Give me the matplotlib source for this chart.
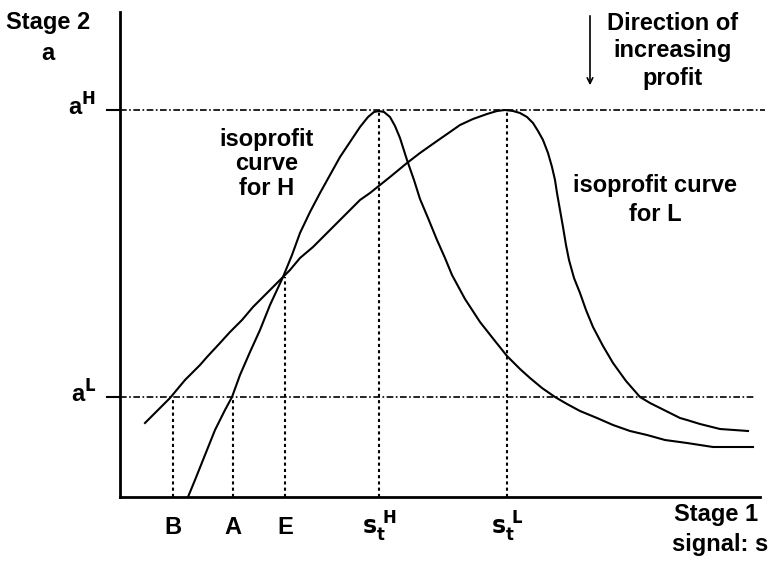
import numpy as np
import matplotlib.pyplot as plt

plt.rcParams['font.family'] = ['Liberation Sans', 'DejaVu Sans']
plt.rcParams['font.weight'] = 'bold'

# curve points (pixel positions, converted below)
h_px = [188, 195, 205, 215, 225, 232, 240, 250, 260, 270, 283, 292, 300, 310, 320,
        330, 340, 350, 360, 368, 374, 379, 384, 390, 395, 400, 407, 414, 420, 428,
        437, 445, 452, 465, 480, 495, 507, 520, 530, 542, 555, 567, 580, 597, 613,
        630, 647, 665, 687, 713, 753]
h_py = [497, 480, 455, 430, 410, 397, 375, 352, 330, 305, 277, 255, 233, 212, 193,
        175, 157, 142, 127, 117, 112, 111, 112, 117, 126, 138, 160, 180, 199, 218,
        240, 258, 275, 299, 322, 341, 356, 369, 378, 388, 397, 404, 411, 418, 425,
        431, 435, 440, 443, 447, 447]

l_px = [145, 155, 170, 185, 200, 207, 220, 230, 242, 253, 265, 277, 290, 300, 313,
        330, 347, 360, 370, 390, 407, 420, 437, 450, 460, 473, 487, 497, 505, 513,
        520, 527, 533, 538, 543, 548, 552, 555, 557, 560, 563, 566, 569, 574, 580,
        586, 593, 603, 613, 626, 640, 650, 660, 670, 680, 687, 700, 720, 748]
l_py = [423, 413, 398, 380, 365, 357, 343, 332, 320, 307, 295, 283, 270, 258, 247,
        230, 213, 200, 193, 177, 163, 153, 141, 132, 125, 119, 114, 111, 110, 111,
        113, 117, 123, 131, 140, 153, 167, 180, 193, 210, 227, 245, 260, 278, 293,
        310, 327, 346, 363, 381, 397, 403, 408, 413, 418, 420, 424, 429, 431]

# signal s measured from the vertical axis, action a measured up from the horizontal axis
h_s = np.array(h_px) - 120
h_a = 497 - np.array(h_py)
l_s = np.array(l_px) - 120
l_a = 497 - np.array(l_py)

a_H, a_L = 387, 100
s_B, s_A, s_E, s_H, s_L = 53, 113, 165, 259, 387
a_E = 220

fig = plt.figure(figsize=(7.71, 5.67), dpi=100)
ax = fig.add_axes([0, 0, 1, 1])
ax.set_xlim(-120, 651)
ax.set_ylim(-70, 497)
ax.axis('off')

# axes
ax.plot([0, 0], [0, 485], color='black', lw=2)
ax.plot([0, 640], [0, 0], color='black', lw=2)
ax.plot([-13, 0], [a_H, a_H], color='black', lw=1.5)
ax.plot([-13, 0], [a_L, a_L], color='black', lw=1.5)

# guide lines
dashdot = (0, (4, 1.5, 1, 1.5))
ax.plot([0, 645], [a_H, a_H], color='black', lw=1.2, ls=dashdot)
ax.plot([0, 635], [a_L, a_L], color='black', lw=1.2, ls=dashdot)
dotted = (0, (1.5, 1.5))
for s, top in [(s_B, a_L), (s_A, a_L), (s_E, a_E), (s_H, a_H), (s_L, a_H)]:
    ax.plot([s, s], [0, top], color='black', lw=1.5, ls=dotted)

# isoprofit curves
ax.plot(h_s, h_a, color='black', lw=1.5)
ax.plot(l_s, l_a, color='black', lw=1.5)

fs = 17
ax.text(-72, 474, 'Stage 2', fontsize=fs, ha='center', va='center')
ax.text(-72, 443, 'a', fontsize=fs, ha='center', va='center')
ax.text(-24, a_H + 3, r'a$^{\mathbf{H}}$', fontsize=fs, ha='right', va='center')
ax.text(-24, a_L + 3, r'a$^{\mathbf{L}}$', fontsize=fs, ha='right', va='center')

ax.annotate('', xy=(470, 409), xytext=(470, 484),
            arrowprops=dict(arrowstyle='->', color='black', lw=1.2))
ax.text(553, 446, 'Direction of\nincreasing\nprofit', fontsize=fs, ha='center',
        va='center', linespacing=1.25)

ax.text(147, 333, 'isoprofit\ncurve\nfor H', fontsize=fs, ha='center', va='center',
        linespacing=1.1)
ax.text(535, 297, 'isoprofit curve\nfor L', fontsize=fs, ha='center', va='center',
        linespacing=1.3)

ax.text(s_B, -30, 'B', fontsize=fs, ha='center', va='center')
ax.text(s_A, -30, 'A', fontsize=fs, ha='center', va='center')
ax.text(s_E, -30, 'E', fontsize=fs, ha='center', va='center')
ax.text(s_H, -30, r'$\mathbf{s_t^{\ H}}$', fontsize=fs, ha='center', va='center')
ax.text(s_L, -30, r'$\mathbf{s_t^{\ L}}$', fontsize=fs, ha='center', va='center')

ax.text(638, -17, 'Stage 1', fontsize=fs, ha='right', va='center')
ax.text(648, -47, 'signal: s', fontsize=fs, ha='right', va='center')

fig.savefig('out.png', dpi=100)
